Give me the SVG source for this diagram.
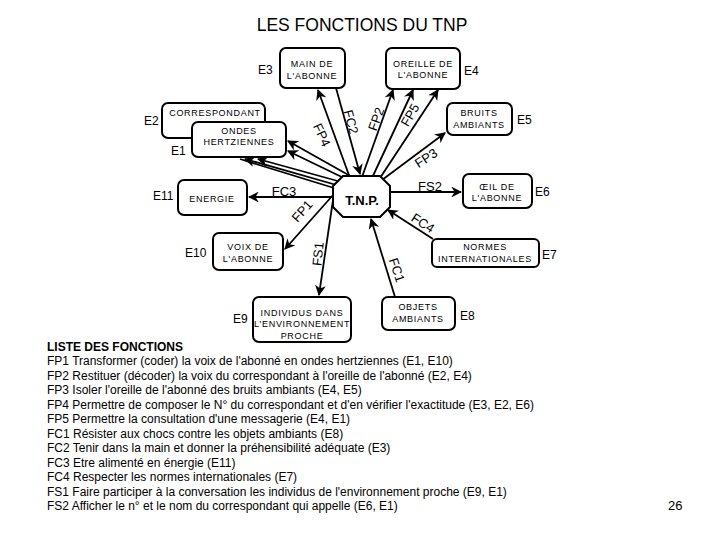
<svg xmlns="http://www.w3.org/2000/svg" width="720" height="540" viewBox="0 0 720 540">
<style>
.bx{fill:#fff;stroke:#000;stroke-width:2}
.bt{font-family:"Liberation Sans",Arial,sans-serif;font-size:9px;letter-spacing:0.7px;text-anchor:middle;fill:#000}
.el{font-family:"Liberation Sans",Arial,sans-serif;font-size:12px;fill:#000}
.cl{font-family:"Liberation Sans",Arial,sans-serif;font-size:13px;fill:#000;text-anchor:middle}
.ln{stroke:#000;stroke-width:1.8;fill:none}
.li{font-family:"Liberation Sans",Arial,sans-serif;font-size:12px;fill:#000}
</style>
<defs>
<marker id="ah" viewBox="0 0 10 10" refX="9" refY="5" markerWidth="6" markerHeight="6" orient="auto" markerUnits="strokeWidth">
<path d="M0,0 L10,5 L0,10 L3,5 Z" fill="#000"/>
</marker>
</defs>
<rect width="720" height="540" fill="#fff"/>
<text x="362" y="31" font-family="Liberation Sans,Arial,sans-serif" font-size="17.5" text-anchor="middle">LES FONCTIONS DU TNP</text>

<g id="connectors">
<line class="ln" x1="350" y1="178" x2="318" y2="90" marker-end="url(#ah)"/>
<line class="ln" x1="336" y1="88" x2="360" y2="174" marker-end="url(#ah)"/>
<line class="ln" x1="362" y1="177" x2="393" y2="90" marker-end="url(#ah)"/>
<line class="ln" x1="372" y1="178" x2="413" y2="90" marker-end="url(#ah)"/>
<line class="ln" x1="380" y1="178" x2="438" y2="90" marker-end="url(#ah)"/>
<line class="ln" x1="382" y1="180" x2="445" y2="133" marker-end="url(#ah)"/>
<line class="ln" x1="352" y1="177" x2="288" y2="141" marker-end="url(#ah)"/>
<line class="ln" x1="348" y1="180" x2="288" y2="151" marker-end="url(#ah)"/>
<line class="ln" x1="345" y1="183" x2="258" y2="159" marker-end="url(#ah)"/>
<line class="ln" x1="340" y1="186" x2="245" y2="159" marker-end="url(#ah)"/>
<line class="ln" x1="334" y1="188" x2="240" y2="159"/>
<line class="ln" x1="333" y1="197" x2="249" y2="197" marker-end="url(#ah)"/>
<line class="ln" x1="350" y1="176" x2="285" y2="249" marker-end="url(#ah)"/>
<line class="ln" x1="333" y1="200" x2="319" y2="295" marker-end="url(#ah)"/>
<line class="ln" x1="395" y1="297" x2="371" y2="219" marker-end="url(#ah)"/>
<line class="ln" x1="433" y1="239" x2="388" y2="210" marker-end="url(#ah)"/>
<line class="ln" x1="390" y1="192" x2="461" y2="192" marker-end="url(#ah)"/>
<text class="cl" dy="0.35em" transform="translate(322,135) rotate(65)">FP4</text>
<text class="cl" dy="0.35em" transform="translate(351,122) rotate(75)">FC2</text>
<text class="cl" dy="0.35em" transform="translate(376,119) rotate(-70)">FP2</text>
<text class="cl" dy="0.35em" transform="translate(410,115) rotate(-60)">FP5</text>
<text class="cl" dy="0.35em" transform="translate(426,158) rotate(-33)">FP3</text>
<text class="cl" dy="0.35em" x="284" y="191">FC3</text>
<text class="cl" dy="0.35em" transform="translate(302,211) rotate(-48)">FP1</text>
<text class="cl" dy="0.35em" transform="translate(318,254) rotate(-84)">FS1</text>
<text class="cl" dy="0.35em" transform="translate(397,270) rotate(72)">FC1</text>
<text class="cl" dy="0.35em" transform="translate(423,223) rotate(33)">FC4</text>
<text class="cl" dy="0.35em" x="430" y="186">FS2</text>
</g>

<g id="tnp">
<polygon class="bx" points="343,176 380,176 390,186 390,207 380,217 343,217 333,207 333,186"/>
<text x="362" y="205" font-family="Liberation Sans,Arial,sans-serif" font-size="13" font-weight="bold" text-anchor="middle">T.N.P.</text>
</g>
<g id="e3">
<rect class="bx" x="280" y="48" width="65" height="40" rx="6"/>
<text class="bt" x="312" y="67">MAIN DE</text>
<text class="bt" x="312" y="79">L'ABONNE</text>
<text class="el" x="258" y="74">E3</text>
</g>
<g id="e4">
<rect class="bx" x="386" y="48" width="74" height="41" rx="6"/>
<text class="bt" x="423" y="67">OREILLE DE</text>
<text class="bt" x="423" y="78">L'ABONNE</text>
<text class="el" x="464" y="75">E4</text>
</g>
<g id="e2">
<rect class="bx" x="162" y="103" width="103" height="35" rx="6"/>
<text class="bt" x="215" y="116">CORRESPONDANT</text>
<text class="el" x="144" y="125">E2</text>
</g>
<g id="e1">
<rect class="bx" x="192" y="122" width="94" height="35" rx="6"/>
<text class="bt" x="239" y="134">ONDES</text>
<text class="bt" x="239" y="145">HERTZIENNES</text>
<text class="el" x="171" y="155">E1</text>
</g>
<g id="e5">
<rect class="bx" x="447" y="103" width="65" height="32" rx="6"/>
<text class="bt" x="479" y="116">BRUITS</text>
<text class="bt" x="479" y="128">AMBIANTS</text>
<text class="el" x="517" y="124">E5</text>
</g>
<g id="e11">
<rect class="bx" x="178" y="180" width="69" height="35" rx="6"/>
<text class="bt" x="212" y="202">ENERGIE</text>
<text class="el" x="153" y="200">E11</text>
</g>
<g id="e10">
<rect class="bx" x="213" y="233" width="70" height="37" rx="6"/>
<text class="bt" x="248" y="250">VOIX DE</text>
<text class="bt" x="248" y="262">L'ABONNE</text>
<text class="el" x="185" y="257">E10</text>
</g>
<g id="e6">
<rect class="bx" x="463" y="174" width="69" height="34" rx="6"/>
<text class="bt" x="497" y="190">ŒIL DE</text>
<text class="bt" x="497" y="201">L'ABONNE</text>
<text class="el" x="535" y="196">E6</text>
</g>
<g id="e7">
<rect class="bx" x="432" y="239" width="107" height="28" rx="5"/>
<text class="bt" x="485" y="250">NORMES</text>
<text class="bt" x="485" y="262">INTERNATIONALES</text>
<text class="el" x="542" y="259">E7</text>
</g>
<g id="e9">
<rect class="bx" x="253" y="297" width="98" height="45" rx="6"/>
<text class="bt" x="302" y="316">INDIVIDUS DANS</text>
<text class="bt" x="302" y="327">L'ENVIRONNEMENT</text>
<text class="bt" x="302" y="339">PROCHE</text>
<text class="el" x="233" y="323">E9</text>
</g>
<g id="e8">
<rect class="bx" x="382" y="297" width="73" height="33" rx="6"/>
<text class="bt" x="418" y="310">OBJETS</text>
<text class="bt" x="418" y="322">AMBIANTS</text>
<text class="el" x="460" y="320">E8</text>
</g>

<g id="list">
<text class="li" x="47" y="351" font-weight="bold">LISTE DES FONCTIONS</text>
<text class="li" x="47" y="365">FP1 Transformer (coder) la voix de l'abonné en ondes hertziennes (E1, E10)</text>
<text class="li" x="47" y="380">FP2 Restituer (décoder) la voix du correspondant à l'oreille de l'abonné (E2, E4)</text>
<text class="li" x="47" y="394">FP3 Isoler l'oreille de l'abonné des bruits ambiants (E4, E5)</text>
<text class="li" x="47" y="409">FP4 Permettre de composer le N° du correspondant et d'en vérifier l'exactitude (E3, E2, E6)</text>
<text class="li" x="47" y="423">FP5 Permettre la consultation d'une messagerie (E4, E1)</text>
<text class="li" x="47" y="438">FC1 Résister aux chocs contre les objets ambiants (E8)</text>
<text class="li" x="47" y="452">FC2 Tenir dans la main et donner la préhensibilité adéquate (E3)</text>
<text class="li" x="47" y="467">FC3 Etre alimenté en énergie (E11)</text>
<text class="li" x="47" y="481">FC4 Respecter les normes internationales (E7)</text>
<text class="li" x="47" y="496">FS1 Faire participer à la conversation les individus de l'environnement proche (E9, E1)</text>
<text class="li" x="47" y="510">FS2 Afficher le n° et le nom du correspondant qui appelle (E6, E1)</text>
<text x="668" y="510" font-family="Liberation Sans,Arial,sans-serif" font-size="13">26</text>
</g>
</svg>
